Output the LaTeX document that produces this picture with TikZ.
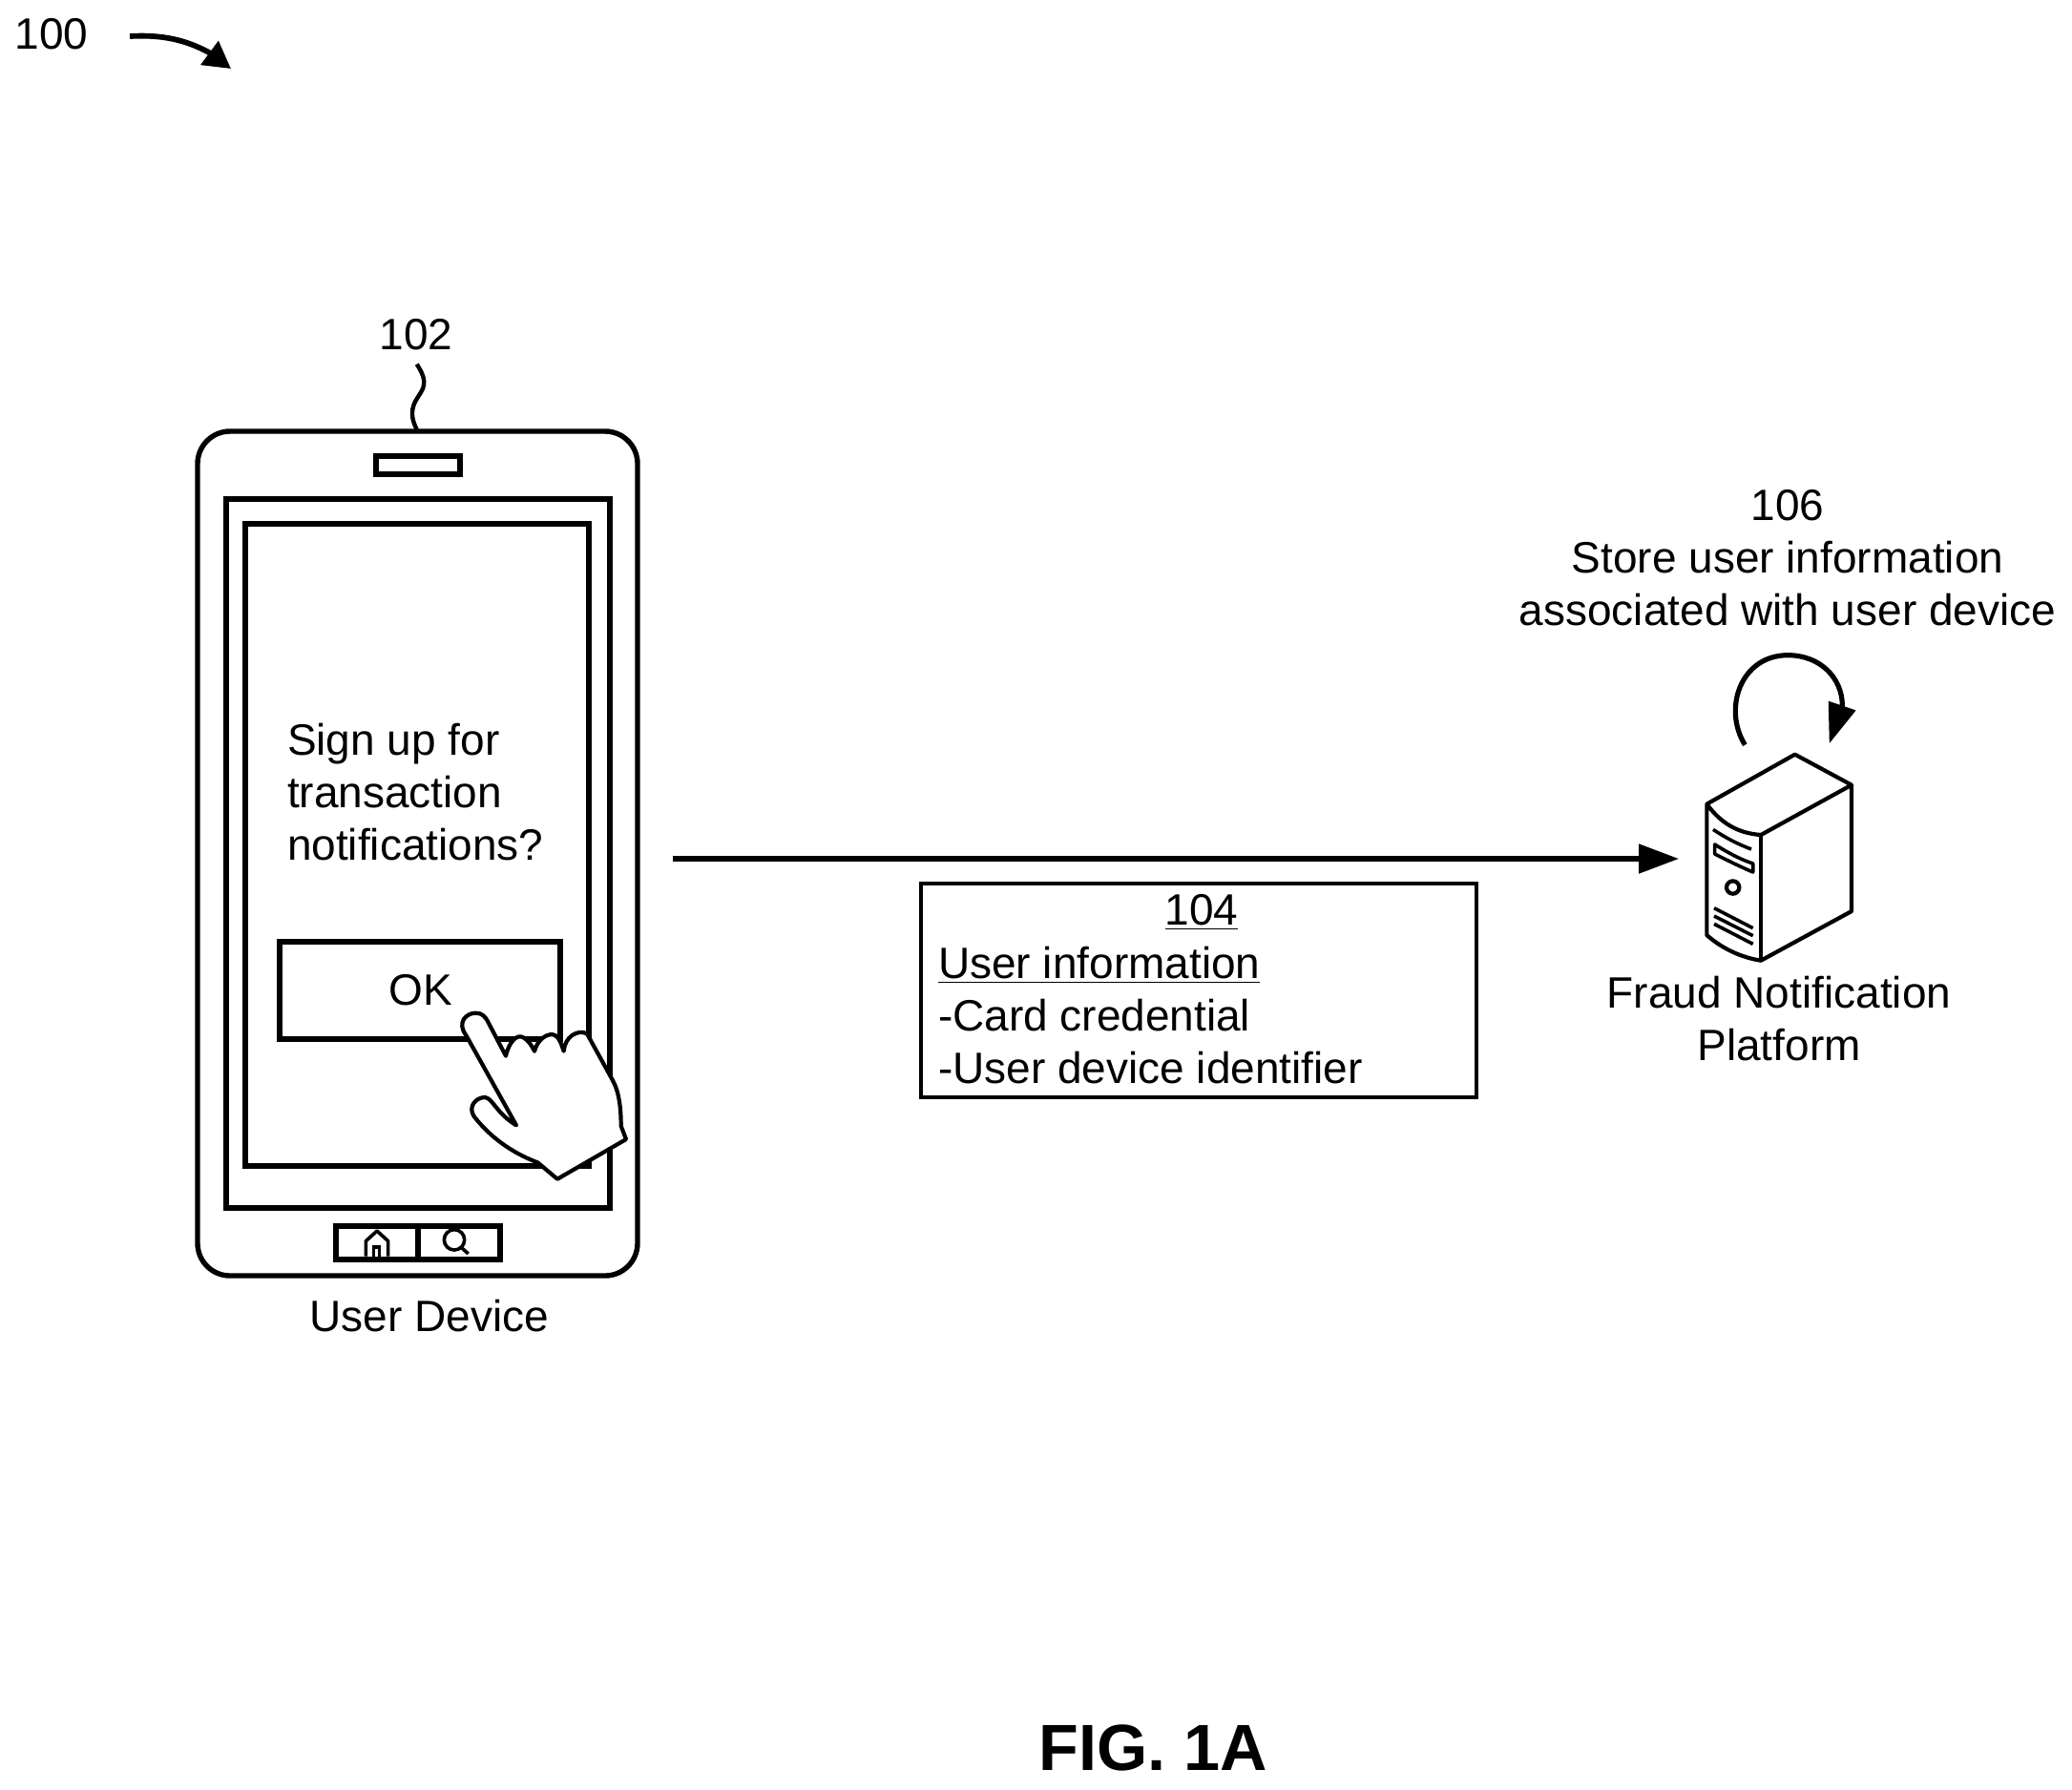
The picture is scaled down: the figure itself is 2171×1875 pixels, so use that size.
\documentclass[tikz,border=0pt]{standalone}
\usepackage{fontspec}
\setmainfont{Liberation Sans}
\usetikzlibrary{arrows.meta}
\tikzset{
  px/.style={x=0.5pt,y=-0.5pt},
  thick line/.style={line width=2.7pt,draw=black},
  small line/.style={line width=1.8pt,draw=black},
  label text/.style={font=\fontsize{23}{27.5}\selectfont,inner sep=0pt,outer sep=0pt,align=center},
  left text/.style={font=\fontsize{23}{27.5}\selectfont,inner sep=0pt,outer sep=0pt,align=left,anchor=west},
  box/.style={draw=black,fill=none,inner sep=0pt,outer sep=0pt},
}
\begin{document}
\begin{tikzpicture}[px]
\useasboundingbox (0,0) rectangle (2171,1875);
% reference 100
\node[label text] (n100) at (54,36) {100};
\coordinate (a100s) at (136,38);
\coordinate (a100b) at (219,55);
\coordinate (a100t) at (242,72);
\draw[line width=2.9pt,-{Triangle[length=14pt,width=15pt]}] (a100s) .. controls (170,36) and (195,42) .. (a100b) -- (a100t);
% phone
\draw[thick line,rounded corners=17pt] (207,452) rectangle (668,1337);
\node[box,thick line,minimum width=44pt,minimum height=9.5pt] (speaker) at (438,487.5) {};
\node[box,thick line,minimum width=201pt,minimum height=371.5pt] (screen) at (438,894.5) {};
\node[box,thick line,minimum width=180pt,minimum height=336.5pt] (inner) at (437,885.5) {};
\node[box,thick line,minimum width=147pt,minimum height=51pt] (okbox) at (440,1038) {};
\node[label text] (ok) at (441,1037.5) {OK};
\node[label text,align=left,anchor=west] (sign) at (301,830.5) {Sign up for\\transaction\\notifications?};
\node[box,thick line,minimum width=86pt,minimum height=17.5pt] (btns) at (438,1302.5) {};
\draw[thick line] (btns.north) -- (btns.south);
\begin{scope}[shift={(180,950)},x=0.16667pt,y=-0.16667pt]
 \draw[small line,line join=round] (610,1100) -- (610,1052) -- (645,1020) -- (680,1052) -- (680,1100);
 \draw[small line] (635,1100) -- (635,1070) -- (652,1070) -- (652,1100);
 \draw[small line] (888,1048) circle[radius=32];
 \draw[small line] (910,1072) -- (932,1092);
 % hand
 \draw[line width=2.1pt,fill=white,line join=round] (1083,688) -- (925,405)
   .. controls (895,365) and (925,335) .. (955,335)
   .. controls (975,335) and (985,345) .. (995,365)
   -- (1050,470)
   .. controls (1060,425) and (1085,400) .. (1105,412)
   .. controls (1120,420) and (1130,435) .. (1140,455)
   .. controls (1150,415) and (1185,395) .. (1205,405)
   .. controls (1220,415) and (1225,435) .. (1232,455)
   .. controls (1235,410) and (1275,385) .. (1305,400)
   -- (1385,545)
   .. controls (1405,580) and (1412,630) .. (1412,690)
   -- (1428,732) -- (1212,857) -- (1150,805)
   .. controls (1070,775) and (1000,725) .. (950,660)
   .. controls (930,630) and (955,600) .. (985,600)
   .. controls (1010,605) and (1020,650) .. (1083,688) -- cycle;
\end{scope}
\node[label text] (udev) at (450,1379) {User Device};
\node[label text] (n102) at (436,351) {102};
\begin{scope}[shift={(190,320)},x=0.16667pt,y=-0.16667pt]
 \coordinate (s102a) at (740,185);
 \coordinate (s102b) at (740,390);
 \draw[line width=2.2pt] (s102a) .. controls (790,260) and (745,270) .. (730,315) .. controls (720,345) and (730,370) .. (s102b);
\end{scope}
% main arrow
\coordinate (mainstart) at (704.5,900);
\coordinate (maintip) at (1759,900);
\draw[line width=2.6pt,-{Triangle[length=21pt,width=15pt]}] (mainstart) -- (maintip);
% box 104
\node[box,line width=1.9pt,minimum width=291pt,minimum height=112pt] (infobox) at (1256,1038) {};
\node[label text] (n104) at (1259,956) {\underline{104}};
\node[left text] (info) at (983,1064.5) {\underline{User information}\\-Card credential\\-User device identifier};
% server
\begin{scope}[shift={(1760,660)},x=0.16667pt,y=-0.16667pt]
 \coordinate (loopa) at (205,362);
 \coordinate (loopb) at (511,237);
 \coordinate (loopt) at (470,358);
 \draw[line width=2.6pt,-{Triangle[length=21pt,width=14.5pt]}] (loopa) .. controls (135,250) and (190,80) .. (340,80) .. controls (440,80) and (510,150) .. (loopb) -- (loopt);
 \draw[line width=2.1pt,line join=round] (85,548) -- (362,392) -- (540,488) -- (255,645)
   .. controls (185,640) and (130,610) .. (85,548) -- (85,960)
   .. controls (130,1000) and (190,1030) .. (255,1040) -- (540,885) -- (540,488);
 \draw[line width=2.1pt] (255,645) -- (255,1040);
 \draw[line width=1.8pt] (105,628) .. controls (145,655) and (185,675) .. (225,690);
 \draw[line width=1.8pt,line join=round] (110,675) .. controls (150,700) and (190,722) .. (230,735) -- (230,762) .. controls (190,745) and (150,725) .. (110,705) -- cycle;
 \draw[line width=2.1pt] (167,810) circle[radius=20];
 \draw[line width=1.8pt] (108,875) -- (230,938);
 \draw[line width=1.8pt] (108,900) -- (230,962);
 \draw[line width=1.8pt] (108,925) -- (230,988);
\end{scope}
\node[label text] (n106) at (1873,584.5) {106\\Store user information\\associated with user device};
\node[label text] (fraud) at (1864,1068) {Fraud Notification\\Platform};
\node[inner sep=0pt,font=\fontsize{34.2}{41}\selectfont\bfseries] (fig) at (1208,1831.5) {FIG. 1A};
\end{tikzpicture}
\end{document}
